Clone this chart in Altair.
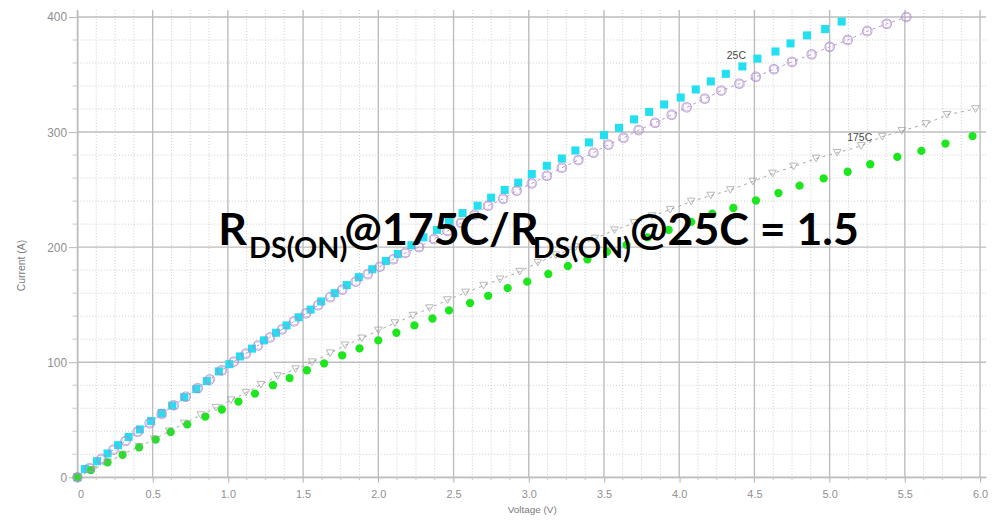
import altair as alt
import pandas as pd

# ---- data ----
# 25C measured (cyan squares)
v25m = [0.0, 0.05, 0.13, 0.20, 0.27, 0.34, 0.415, 0.49, 0.56, 0.63, 0.71, 0.79, 0.86, 0.94, 1.01, 1.08, 1.16, 1.24, 1.32, 1.39,
        1.47, 1.55, 1.62, 1.71, 1.79, 1.87, 1.96, 2.05, 2.13, 2.22, 2.30, 2.39, 2.47, 2.56, 2.66, 2.75, 2.84, 2.93, 3.02, 3.12,
        3.22, 3.31, 3.40, 3.50, 3.60, 3.70, 3.80, 3.90, 4.01, 4.11, 4.21, 4.31, 4.42, 4.52, 4.64, 4.74, 4.85, 4.97, 5.08]
i25m = [0, 7.2, 14, 20.7, 27.9, 35, 41.6, 48.9, 55.8, 62.3, 69.6, 76.7, 83.6, 92, 98.3, 105, 111.8, 119, 125.6, 132,
        139, 145.7, 152.8, 160, 167, 173.9, 180.8, 188, 194, 201.7, 208.5, 215, 222, 229.6, 236, 243, 249.7, 256, 263.5, 270.7,
        277, 284, 291, 297.4, 303.7, 311, 317.5, 324, 330, 337, 344, 350.6, 357, 363.8, 370, 377, 384, 389.5, 396]

# 25C model (purple open markers, dashed)
v25s = [0, 0.08, 0.16, 0.24, 0.32, 0.40, 0.48, 0.56, 0.64, 0.72, 0.80, 0.88, 0.96, 1.04, 1.12, 1.20, 1.28, 1.36, 1.44, 1.52,
        1.60, 1.68, 1.76, 1.85, 1.93, 2.01, 2.10, 2.18, 2.27, 2.37, 2.46, 2.55, 2.64, 2.73, 2.83, 2.92, 3.02, 3.12, 3.22, 3.33,
        3.43, 3.53, 3.63, 3.73, 3.84, 3.95, 4.05, 4.17, 4.28, 4.40, 4.51, 4.63, 4.75, 4.88, 5.00, 5.12, 5.25, 5.38, 5.51]
i25s = [0, 8, 16, 24, 31.5, 39.5, 47, 55, 62.5, 70, 77.5, 85, 93, 100.5, 107.5, 114.5, 121.5, 128.5, 135.5, 142.5,
        149.5, 156.5, 163, 170, 176.5, 183, 189.5, 195, 200, 207, 214, 221, 228, 236, 242, 249, 255.4, 262, 269, 275.6,
        282, 289, 295, 301.7, 308, 315, 321.5, 329, 336, 342, 348, 354.6, 361, 367.5, 374, 380, 387.7, 394, 400]

# 175C measured (green dots)
v175m = [0, 0.09, 0.20, 0.30, 0.41, 0.52, 0.62, 0.73, 0.85, 0.96, 1.07, 1.18, 1.30, 1.41, 1.525, 1.64, 1.76, 1.875, 2.0, 2.12,
         2.24, 2.36, 2.47, 2.61, 2.73, 2.86, 2.99, 3.13, 3.26, 3.39, 3.52, 3.65, 3.79, 3.93, 4.08, 4.22, 4.36, 4.51, 4.66, 4.80,
         4.96, 5.12, 5.27, 5.45, 5.61, 5.77, 5.95]
i175m = [0, 6.3, 13, 19.5, 26, 32.8, 39.4, 46, 52.8, 58.9, 65.8, 72.7, 80, 86.2, 93, 99, 106, 112, 119, 125.6,
         132, 138, 145, 151.4, 157.7, 164.4, 170, 176.7, 183.6, 189.4, 196, 202, 208.5, 215, 222, 229, 234, 240.5, 247, 253.4,
         259.7, 265.5, 272, 278.4, 283.6, 290, 296.5]

# 175C model (gray open triangles, dashed)
v175s = [0, 0.10, 0.20, 0.30, 0.41, 0.51, 0.61, 0.71, 0.82, 0.92, 1.02, 1.12, 1.22, 1.33, 1.45, 1.56, 1.68, 1.78, 1.89, 2.00,
         2.11, 2.23, 2.34, 2.46, 2.58, 2.70, 2.81, 2.94, 3.06, 3.18, 3.31, 3.44, 3.57, 3.70, 3.82, 3.94, 4.08, 4.21, 4.34, 4.49,
         4.62, 4.76, 4.91, 5.05, 5.21, 5.35, 5.48, 5.64, 5.78, 5.97]
i175s = [0, 6.5, 13, 19.7, 26.6, 33, 40, 46.8, 54, 60.5, 67, 73.5, 80.4, 88, 94, 100, 107.8, 114.7, 120.7, 127.6,
         134, 140.5, 147, 154, 160.6, 166.6, 172, 178.7, 186.5, 193, 200, 207.5, 214.7, 221, 227, 232.5, 239.7, 244.8, 249.7, 257,
         264, 270, 277, 282, 288, 296, 301, 307, 315, 320]

# curve labels
note_text = ["25C", "175C"]
note_v = [4.38, 5.2]
note_i = [366, 295]

# axis ticks / grid
x_major = [0, 0.5, 1.0, 1.5, 2.0, 2.5, 3.0, 3.5, 4.0, 4.5, 5.0, 5.5, 6.0]
y_major = [0, 100, 200, 300, 400]
x_minor = [k * 0.125 for k in range(1, 48) if k % 4 != 0]
y_minor = [k * 20 for k in range(1, 21) if k % 5 != 0]

# ---- chart ----
W, H = 916, 471
X_DOMAIN = [0, 6.04]
Y_DOMAIN = [0, 406]

LABEL_FONT = "Liberation Sans"
x_axis = alt.Axis(values=x_major, grid=False, title="Voltage (V)",
                  labelExpr="datum.value == 0 ? '0' : format(datum.value, '.1f')",
                  labelFont=LABEL_FONT, labelFontSize=11, labelColor="#8f8f8f", labelPadding=6,
                  tickColor="#b0b0b0", tickSize=5, domainColor="#b0b0b0",
                  titleFont=LABEL_FONT, titleFontSize=10, titleFontWeight="normal", titleColor="#7a7a7a",
                  titlePadding=6)
y_axis = alt.Axis(values=y_major, grid=False, title="Current (A)", format="d",
                  labelFont=LABEL_FONT, labelFontSize=12, labelColor="#8f8f8f", labelPadding=2,
                  tickColor="#b8b8b8", tickSize=9, domainColor="#b0b0b0",
                  titleFont=LABEL_FONT, titleFontSize=10.5, titleFontWeight="normal", titleColor="#7a7a7a",
                  titleX=-51, titleY=257)


def xenc(field):
    return alt.X(f"{field}:Q", scale=alt.Scale(domain=X_DOMAIN, nice=False, zero=False), axis=x_axis)


def yenc(field):
    return alt.Y(f"{field}:Q", scale=alt.Scale(domain=Y_DOMAIN, nice=False, zero=False), axis=y_axis)


df_xmin = pd.DataFrame({"gx": x_minor})
df_xmaj = pd.DataFrame({"gx": x_major})
df_ymin = pd.DataFrame({"gy": y_minor})
df_ymaj = pd.DataFrame({"gy": y_major})

grid_xmin = alt.Chart(df_xmin).mark_rule(color="#cccccc", strokeDash=[1, 2], strokeWidth=1).encode(x=xenc("gx"))
grid_ymin = alt.Chart(df_ymin).mark_rule(color="#cccccc", strokeDash=[1, 2], strokeWidth=1).encode(y=yenc("gy"))
grid_xmaj = alt.Chart(df_xmaj).mark_rule(color="#bdbdbd", strokeWidth=1.4).encode(x=xenc("gx"))
grid_ymaj = alt.Chart(df_ymaj).mark_rule(color="#bdbdbd", strokeWidth=1.4).encode(y=yenc("gy"))
tick_ymin = alt.Chart(df_ymin).mark_rule(color="#c8c8c8", strokeWidth=1).encode(
    y=yenc("gy"), x=alt.value(-5), x2=alt.value(0))
tick_xmin = alt.Chart(df_xmin).mark_rule(color="#c8c8c8", strokeWidth=1).encode(
    x=xenc("gx"), y=alt.value(H), y2=alt.value(H + 3))

df25m = pd.DataFrame({"V": v25m, "I": i25m})
df25s = pd.DataFrame({"V": v25s, "I": i25s})
df175m = pd.DataFrame({"V": v175m, "I": i175m})
df175s = pd.DataFrame({"V": v175s, "I": i175s})

line25s = alt.Chart(df25s).mark_line(color="#b89ad4", strokeWidth=1, strokeDash=[3, 4]).encode(
    x=xenc("V"), y=yenc("I"), order="V:Q")
line175s = alt.Chart(df175s).mark_line(color="#a8a8a8", strokeWidth=1, strokeDash=[3, 4]).encode(
    x=xenc("V"), y=yenc("I"), order="V:Q")

pts25m = alt.Chart(df25m).mark_point(shape="square", filled=True, color="#22e0f0", size=66, opacity=1).encode(
    x=xenc("V"), y=yenc("I"))
pts175m = alt.Chart(df175m).mark_point(shape="circle", filled=True, color="#1ee61e", size=70, opacity=1).encode(
    x=xenc("V"), y=yenc("I"))
pts25s_c = alt.Chart(df25s).mark_point(shape="circle", filled=False, color="#a67fca", size=95, strokeWidth=1).encode(
    x=xenc("V"), y=yenc("I"))
pts25s_s = alt.Chart(df25s).mark_point(shape="square", filled=False, color="#b796d6", size=50, strokeWidth=1).encode(
    x=xenc("V"), y=yenc("I"))
pts175s = alt.Chart(df175s).mark_point(shape="triangle-down", filled=False, color="#9a9a9a", size=60, strokeWidth=1).encode(
    x=xenc("V"), y=yenc("I"))

notes = alt.Chart(pd.DataFrame({"t": note_text, "V": note_v, "I": note_i})).mark_text(
    font=LABEL_FONT, fontSize=10.5, color="#444444", align="center", baseline="middle").encode(
    x=xenc("V"), y=yenc("I"), text="t:N")

# big annotation with subscripts
one = pd.DataFrame({"k": [0]})
BIG_FONT = "Lato"


def seg(txt, px, py, size):
    return alt.Chart(one).mark_text(text=txt, font=BIG_FONT, fontWeight="bold", fontSize=size, color="#000000",
                                    align="left", baseline="alphabetic").encode(x=alt.value(px), y=alt.value(py))


big = [
    seg("R", 142, 237, 45),
    seg("DS(ON)", 173, 250, 29),
    seg("@175C/R", 269, 237, 45),
    seg("DS(ON)", 459, 250, 29),
    seg("@25C = 1.5", 557, 237, 45),
]

chart = alt.layer(
    grid_xmin, grid_ymin, grid_xmaj, grid_ymaj, tick_ymin, tick_xmin,
    line25s, line175s, pts25m, pts175m, pts25s_c, pts25s_s, pts175s, notes, *big
).properties(
    width=W, height=H,
    autosize=alt.AutoSizeParams(type="none"),
    padding={"left": 70, "top": 0, "right": 11, "bottom": 44},
    background="white",
).configure_view(stroke=None)

chart.save("out.html", embed_options={"renderer": "svg", "actions": False})
